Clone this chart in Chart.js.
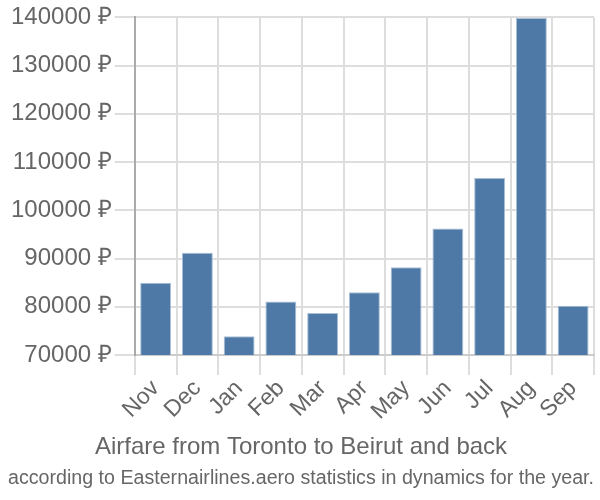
<!DOCTYPE html>
<html>
<head>
<meta charset="utf-8">
<script src="https://cdn.jsdelivr.net/npm/chart.js@4/dist/chart.umd.min.js"></script>
<style>
    html, body { margin: 0; padding: 0; background: #fff; }
    #wrap { width: 600px; height: 500px; }
</style>
</head>
<body>
<div id="wrap"><canvas id="fareChart" width="600" height="500"></canvas></div>
<script>
// airfare by month, rubles
const months = ['Nov', 'Dec', 'Jan', 'Feb', 'Mar', 'Apr', 'May', 'Jun', 'Jul', 'Aug', 'Sep'];
const fares = [85000, 91200, 73900, 81100, 78700, 83000, 88200, 96200, 106700, 139900, 80200];
const yMin = 70000;
const yMax = 140000;
const yStep = 10000;

const textGrey = '#666666';
const gridGrey = '#dddddd';
const barBlue = '#4e79a7';

Chart.defaults.font.family = "'Liberation Sans', Arial, sans-serif";
Chart.defaults.color = textGrey;

const ctx = document.getElementById('fareChart').getContext('2d');
new Chart(ctx, {
    type: 'bar',
    data: {
        labels: months,
        datasets: [{
            data: fares,
            backgroundColor: barBlue,
            borderColor: '#a9bfd6',
            borderWidth: 1,
            categoryPercentage: 0.74,
            barPercentage: 1
        }]
    },
    options: {
        responsive: false,
        animation: false,
        layout: { padding: { top: 0, right: 6, left: 8, bottom: 10 } },
        plugins: {
            legend: { display: false },
            tooltip: { enabled: false },
            title: {
                display: true,
                position: 'bottom',
                weight: 1000, // keep title above the subtitle
                text: 'Airfare from Toronto to Beirut and back',
                font: { size: 24, weight: 'normal' },
                color: textGrey,
                padding: { top: 8, bottom: 0 }
            },
            subtitle: {
                display: true,
                position: 'bottom',
                text: 'according to Easternairlines.aero statistics in dynamics for the year.',
                font: { size: 20, weight: 'normal' },
                color: textGrey,
                padding: { top: 4, bottom: 0 }
            }
        },
        scales: {
            x: {
                grid: { color: gridGrey, lineWidth: 2, tickLength: 20, offset: true },
                border: { color: '#cccccc', width: 2 },
                ticks: {
                    font: { size: 23 },
                    color: textGrey,
                    autoSkip: false,
                    maxRotation: 45,
                    minRotation: 45,
                    padding: 0
                }
            },
            y: {
                min: yMin,
                max: yMax,
                grid: { color: gridGrey, lineWidth: 2, tickLength: 20 },
                border: { color: '#aaaaaa', width: 2 },
                ticks: {
                    stepSize: yStep,
                    font: { size: 24 },
                    color: textGrey,
                    padding: 3,
                    callback: v => v + ' ₽'
                }
            }
        }
    }
});
</script>
</body>
</html>
